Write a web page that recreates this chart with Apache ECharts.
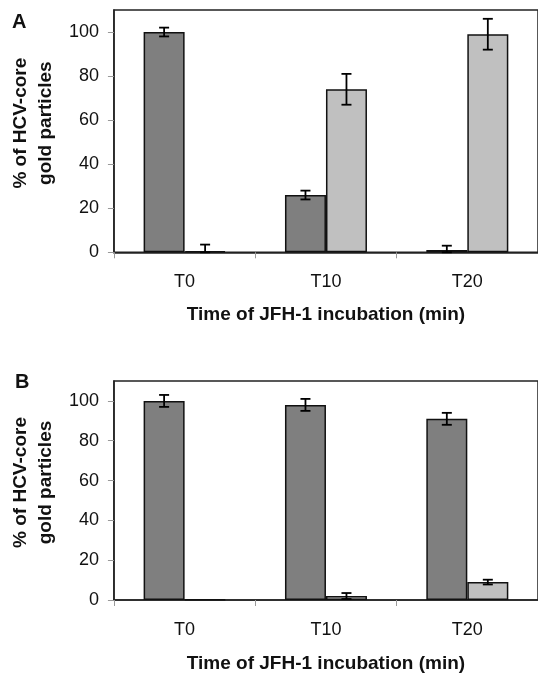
<!DOCTYPE html>
<html>
<head>
<meta charset="utf-8">
<script src="https://cdn.jsdelivr.net/npm/echarts@6/dist/echarts.min.js"></script>
<style>
html,body{margin:0;padding:0;background:#fff;}
#chart{width:538px;height:674px;}
</style>
</head>
<body>
<div id="chart"></div>
<script>
// ---- data ----
const categories = ['T0', 'T10', 'T20'];
// Panel A
const aDark = [100, 26, 1];
const aDarkErr = [2, 2, 2];
const aLight = [0.5, 74, 99];
const aLightErr = [3, 7, 7];
// Panel B
const bDark = [100, 98, 91];
const bDarkErr = [3, 3, 3];
const bLight = [0.3, 2, 9];
const bLightErr = [0, 1.5, 1.2];
// axis
const yMin = 0, yMax = 110, yStep = 20;
const yName = '% of HCV-core\ngold particles';
const xName = 'Time of JFH-1 incubation (min)';
const panelLabels = ['A', 'B'];

// ---- styles ----
const FONT = '"Liberation Sans", Arial, sans-serif';
const DARK = '#7f7f7f';
const LIGHT = '#c0c0c0';
const BAR_W = 41;

function errData(vals, errs) {
  return vals.map((v, i) => [i, v, errs[i]]);
}

function errSeries(vals, errs, side, axisIdx) {
  return {
    type: 'custom',
    xAxisIndex: axisIdx,
    yAxisIndex: axisIdx,
    z: 10,
    silent: true,
    data: errData(vals, errs),
    renderItem: function (params, api) {
      const i = api.value(0), v = api.value(1), e = api.value(2);
      if (!e) return;
      const top = api.coord([i, v + e]);
      const bot = api.coord([i, Math.max(0, v - e)]);
      const x = top[0] + side * BAR_W / 2;
      const cap = 5;
      const st = { stroke: '#000', lineWidth: 1.8 };
      return {
        type: 'group',
        children: [
          { type: 'line', shape: { x1: x, y1: top[1], x2: x, y2: bot[1] }, style: st },
          { type: 'line', shape: { x1: x - cap, y1: top[1], x2: x + cap, y2: top[1] }, style: st },
          { type: 'line', shape: { x1: x - cap, y1: bot[1], x2: x + cap, y2: bot[1] }, style: st }
        ]
      };
    }
  };
}

function barSeries(vals, color, axisIdx) {
  return {
    type: 'bar',
    xAxisIndex: axisIdx,
    yAxisIndex: axisIdx,
    data: vals,
    barWidth: BAR_W,
    barGap: '0%',
    itemStyle: { color: color, borderColor: '#111', borderWidth: 1.5 },
    silent: true
  };
}

function xAxisCfg(gridIdx, margin, gap) {
  return {
    type: 'category',
    gridIndex: gridIdx,
    data: categories,
    axisLine: { lineStyle: { color: '#222', width: 1.5 } },
    axisTick: { show: true, length: 6, lineStyle: { color: '#999', width: 1 } },
    axisLabel: { color: '#111', fontFamily: FONT, fontSize: 18, margin: margin },
    name: xName,
    nameLocation: 'middle',
    nameGap: gap,
    nameTextStyle: { color: '#111', fontFamily: FONT, fontSize: 19, fontWeight: 'bold' }
  };
}

function yAxisCfg(gridIdx) {
  return {
    type: 'value',
    gridIndex: gridIdx,
    min: yMin,
    max: yMax,
    interval: yStep,
    splitLine: { show: false },
    axisLine: { show: true, lineStyle: { color: '#222', width: 1.5 } },
    axisTick: { show: true, length: 6, lineStyle: { color: '#999', width: 1 } },
    axisLabel: { color: '#111', fontFamily: FONT, fontSize: 18, margin: 15, showMaxLabel: false,
      formatter: function (v) { return v > 100 ? '' : String(v); } },
    name: yName,
    nameLocation: 'middle',
    nameGap: 51,
    nameTextStyle: { color: '#111', fontFamily: FONT, fontSize: 19, fontWeight: 'bold',
      lineHeight: 25, align: 'center', padding: [0, 0, 0, 16] }
  };
}

const chart = echarts.init(document.getElementById('chart'), null, { renderer: 'canvas' });
chart.setOption({
  animation: false,
  backgroundColor: '#fff',
  title: [
    { text: panelLabels[0], left: 12, top: 12, padding: 0,
      textStyle: { fontFamily: FONT, fontSize: 20, fontWeight: 'bold', color: '#111' } },
    { text: panelLabels[1], left: 15, top: 372, padding: 0,
      textStyle: { fontFamily: FONT, fontSize: 20, fontWeight: 'bold', color: '#111' } }
  ],
  grid: [
    { left: 108, top: 10, width: 433.5, height: 242.3, show: true, borderColor: '#222', borderWidth: 1.5 },
    { left: 109, top: 381, width: 432, height: 220, show: true, borderColor: '#222', borderWidth: 1.5 }
  ],
  xAxis: [xAxisCfg(0, 21, 53), xAxisCfg(1, 21, 54)],
  yAxis: [yAxisCfg(0), yAxisCfg(1)],
  series: [
    barSeries(aDark, DARK, 0),
    barSeries(aLight, LIGHT, 0),
    errSeries(aDark, aDarkErr, -1, 0),
    errSeries(aLight, aLightErr, 1, 0),
    barSeries(bDark, DARK, 1),
    barSeries(bLight, LIGHT, 1),
    errSeries(bDark, bDarkErr, -1, 1),
    errSeries(bLight, bLightErr, 1, 1)
  ]
});
</script>
</body>
</html>
